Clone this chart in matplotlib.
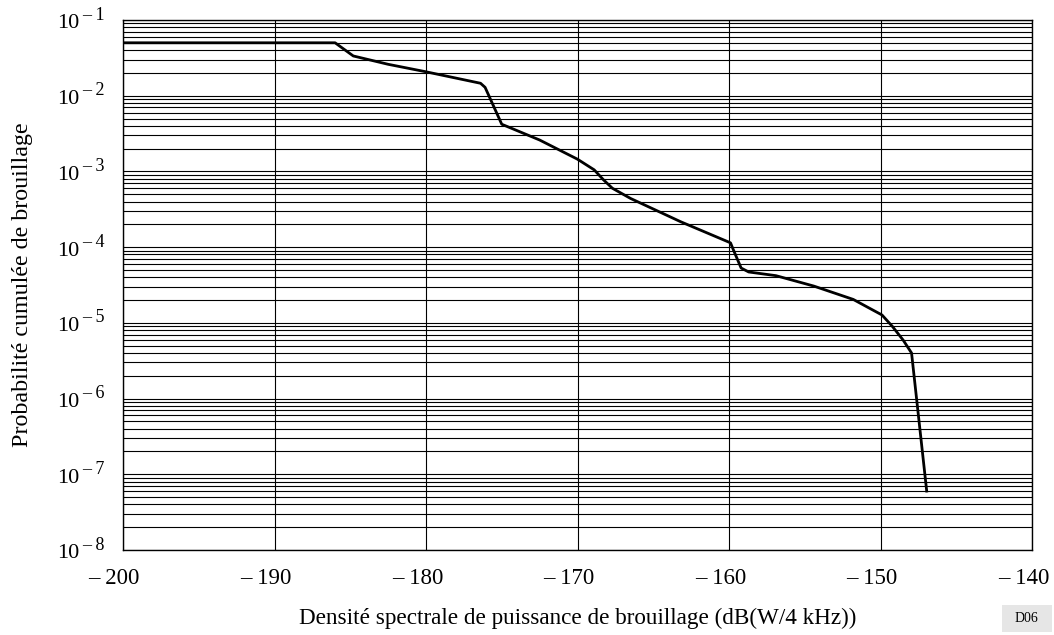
import numpy as np
import matplotlib as mpl
mpl.use("Agg")
import matplotlib.pyplot as plt
from matplotlib.ticker import LogLocator, FixedLocator, NullFormatter

mpl.rcParams.update({"font.family": "Liberation Serif"})

# interference PSD (dB(W/4 kHz)) vs cumulative probability
psd = [-200.0, -186.0, -184.8, -182.5, -180.0, -176.4, -176.1, -175.0, -172.5,
       -170.0, -168.9, -168.3, -167.7, -166.5, -163.2, -159.9, -159.7, -159.2,
       -158.7, -156.9, -154.4, -151.8, -150.7, -149.9, -149.2, -148.5, -147.95, -146.95]
prob = [5.0e-2, 5.0e-2, 3.35e-2, 2.6e-2, 2.07e-2, 1.46e-2, 1.29e-2, 4.2e-3, 2.6e-3,
        1.45e-3, 1.05e-3, 7.8e-4, 6.0e-4, 4.4e-4, 2.17e-4, 1.14e-4, 9.1e-5, 5.3e-5,
        4.7e-5, 4.2e-5, 3.06e-5, 2.04e-5, 1.55e-5, 1.27e-5, 8.9e-6, 5.9e-6, 4.0e-6, 6.0e-8]

xticks = [-200, -190, -180, -170, -160, -150, -140]
ydecades = [-8, -7, -6, -5, -4, -3, -2, -1]

PX = 0.72  # points per pixel at dpi 100
W, H = 1054, 635
fig = plt.figure(figsize=(W / 100, H / 100), dpi=100)
ax = fig.add_axes([123 / W, (H - 550) / H, (1032 - 123) / W, (550 - 20) / H])

ax.plot(psd, prob, color="black", lw=2.0, zorder=3)

ax.set_yscale("log")
ax.set_xlim(-200, -140)
ax.set_ylim(1e-8, 1e-1)
ax.xaxis.set_major_locator(FixedLocator(xticks))
ax.set_xticklabels([])
ax.yaxis.set_major_locator(FixedLocator([10.0 ** d for d in ydecades]))
ax.set_yticklabels([])
ax.yaxis.set_minor_locator(LogLocator(base=10, subs=np.arange(2, 10), numticks=20))
ax.yaxis.set_minor_formatter(NullFormatter())

# x tick labels: number centred on the tick, dash hanging to the left
xtrans = ax.get_xaxis_transform()
for v in xticks:
    ax.annotate(f"\u2013 {abs(v)}", xy=(v, 0), xycoords=xtrans, xytext=(17 * PX, -28 * PX),
                textcoords="offset points", ha="right", va="center", fontsize=16.5,
                annotation_clip=False)

# y tick labels: "10" with a large "– n" exponent
ytrans = ax.get_yaxis_transform()
for d in ydecades:
    ax.annotate("10", xy=(0, 10.0 ** d), xycoords=ytrans, xytext=(-66 * PX, -4 * PX),
                textcoords="offset points", ha="left", va="center", fontsize=16,
                annotation_clip=False)
    ax.annotate(f"\u2013 {-d}", xy=(0, 10.0 ** d), xycoords=ytrans, xytext=(-41 * PX, 5 * PX),
                textcoords="offset points", ha="left", va="center", fontsize=13,
                annotation_clip=False)

ax.grid(which="major", axis="x", color="black", lw=0.8)
ax.grid(which="both", axis="y", color="black", lw=0.8)
ax.tick_params(which="both", length=0)
for s in ax.spines.values():
    s.set_color("black"); s.set_linewidth(1.0)

ax.set_xlabel("Densité spectrale de puissance de brouillage (dB(W/4 kHz))", fontsize=16.7, labelpad=38)
ax.set_ylabel("Probabilité cumulée de brouillage", fontsize=17.3, labelpad=61)

fig.text(1026 / W, 1 - 619 / H, "D06", fontsize=10, ha="center", va="center")
fig.patches.append(plt.Rectangle((1002 / W, 1 - 632 / H), 50 / W, 27 / H, transform=fig.transFigure,
                                 facecolor="#e6e6e6", edgecolor="none", zorder=-1))

fig.savefig("out.png", dpi=100, facecolor="white")
